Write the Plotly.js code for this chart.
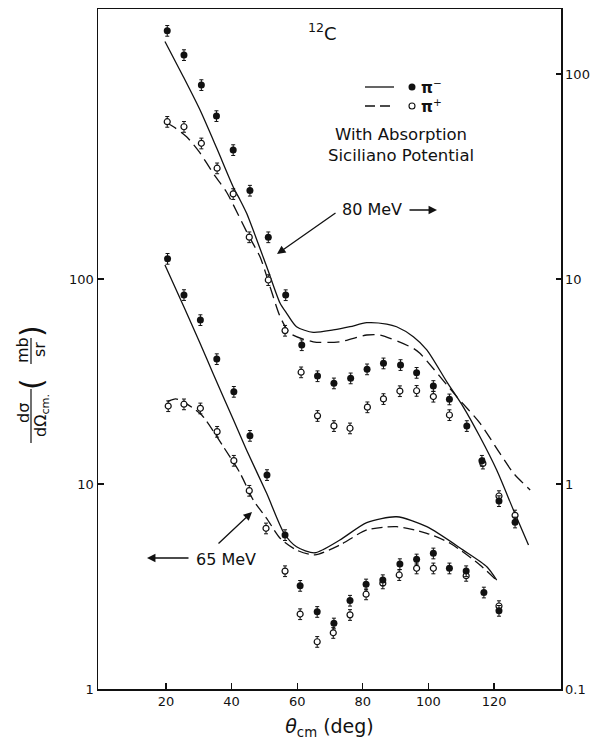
<!DOCTYPE html>
<html>
<head>
<meta charset="utf-8">
<script src="https://cdn.plot.ly/plotly-3.0.1.min.js"></script>
<style>
  html, body { margin: 0; padding: 0; background: #fff; }
  #chart { width: 596px; height: 740px; }
</style>
</head>
<body>
<div id="chart"></div>
<script>
// 12C pion elastic scattering, 65 MeV (left scale) and 80 MeV (right scale)

// --- 80 MeV measurements (right axis, mb/sr) ---
const theta80Minus = [20.4, 25.5, 30.8, 35.4, 40.5, 45.6, 51.2, 56.5, 61.4, 66.2, 71.2, 76.3, 81.3, 86.3, 91.5, 96.4, 101.5, 106.4, 111.7, 116.3, 121.5, 126.4];
const sigma80Minus = [162.6, 123.8, 88.4, 62.4, 42.6, 27.0, 16.0, 8.35, 4.76, 3.36, 3.10, 3.28, 3.63, 3.88, 3.81, 3.49, 3.01, 2.59, 1.92, 1.30, 0.826, 0.65];

const theta80Plus = [20.4, 25.5, 30.8, 35.6, 40.5, 45.4, 51.2, 56.3, 61.2, 66.2, 71.2, 76.1, 81.4, 86.3, 91.3, 96.4, 101.5, 106.4, 116.6, 121.5, 126.4];
const sigma80Plus = [58.5, 55.3, 45.9, 34.7, 26.0, 16.0, 9.89, 5.60, 3.51, 2.15, 1.92, 1.87, 2.37, 2.60, 2.84, 2.85, 2.67, 2.17, 1.26, 0.874, 0.703];

// --- 65 MeV measurements (left axis, mb/sr) ---
const theta65Minus = [20.5, 25.5, 30.5, 35.5, 40.7, 45.6, 50.8, 56.3, 60.9, 66.1, 71.2, 76.1, 81.0, 86.1, 91.3, 96.4, 101.5, 106.4, 111.5, 116.9, 121.5];
const sigma65Minus = [125.6, 83.6, 63.1, 40.7, 28.2, 17.2, 11.07, 5.64, 3.19, 2.38, 2.09, 2.70, 3.24, 3.40, 4.07, 4.29, 4.59, 3.88, 3.76, 2.96, 2.41];

const theta65Plus = [20.7, 25.5, 30.5, 35.6, 40.7, 45.4, 50.5, 56.3, 60.9, 66.1, 71.0, 76.1, 81.0, 86.1, 91.1, 96.4, 101.5, 111.5, 121.5];
const sigma65Plus = [24.0, 24.5, 23.4, 18.0, 13.0, 9.28, 6.08, 3.76, 2.32, 1.70, 1.88, 2.30, 2.90, 3.28, 3.60, 3.88, 3.88, 3.57, 2.54];

// --- Optical-model curves, with absorption (Siciliano potential) ---
const theta80MinusCalc = [19.7, 25.3, 30.4, 35.5, 40.7, 42.6, 44.6, 50.7, 54.8, 56.8, 59.8, 64.9, 71.0, 76.1, 81.2, 87.3, 90.3, 95.4, 99.5, 105.6, 110.6, 115.7, 120.8, 125.9, 130.5];
const sigma80MinusCalc = [144, 97, 66.7, 43.4, 27.7, 24.3, 20.9, 11.5, 7.61, 6.8, 5.85, 5.49, 5.64, 5.85, 6.12, 6.03, 5.85, 5.23, 4.51, 3.15, 2.38, 1.70, 1.17, 0.747, 0.504];

const theta80PlusCalc = [20.0, 22.3, 26.3, 30.1, 34.9, 38.5, 45.1, 48.7, 51.7, 54.8, 57.8, 64.9, 73.0, 81.2, 85.2, 95.4, 97.4, 108.6, 115.7, 121.8, 125.9, 131.0];
const sigma80PlusCalc = [58, 55.3, 49.4, 41.8, 31.9, 26.5, 16.4, 12.8, 9.2, 6.55, 5.44, 4.94, 4.94, 5.33, 5.33, 4.59, 4.34, 2.67, 1.98, 1.41, 1.13, 0.935];

const theta65MinusCalc = [19.7, 25.5, 30.4, 34.4, 40.6, 44.6, 50.7, 56.0, 59.8, 65.4, 73.0, 81.2, 90.3, 99.5, 110.6, 117.8, 120.8];
const sigma65MinusCalc = [117, 73, 48.6, 34.5, 20.5, 14.6, 9.01, 5.75, 4.94, 4.62, 5.33, 6.48, 6.92, 6.19, 4.76, 3.95, 3.40];

const theta65PlusCalc = [20.5, 23.0, 26.3, 30.9, 37.5, 42.6, 46.6, 50.7, 54.8, 59.8, 65.4, 73.0, 81.2, 90.3, 99.5, 106.6, 115.7, 120.8];
const sigma65PlusCalc = [25.2, 26.0, 24.6, 21.7, 15.2, 11.3, 8.36, 6.8, 5.44, 4.76, 4.51, 5.04, 5.97, 6.19, 5.75, 5.14, 4.03, 3.38];

// axis ticks
const xTicks = [20, 40, 60, 80, 100, 120];
const leftTicks = [1, 10, 100];
const leftTickText = ['1', '10', '100'];
const rightTicks = [0.1, 1, 10, 100];
const rightTickText = ['0.1', '1', '10', '100'];

// plot frame geometry (pixels)
const L = 98, R = 561, T = 9, B = 689;
const W = 596, H = 740;
const px = v => (v - L) / (R - L);
const py = v => (B - v) / (B - T);

const FONT = 'DejaVu Sans, Liberation Sans, sans-serif';
const INK = '#111';

function errBar() {
  return { type: 'percent', value: 6, width: 2, thickness: 1, color: INK };
}
function filled(x, y, yaxis) {
  return { x, y, yaxis, type: 'scatter', mode: 'markers', hoverinfo: 'skip',
    marker: { symbol: 'circle', size: 7, color: INK, line: { width: 0 } },
    error_y: errBar(), showlegend: false };
}
function open(x, y, yaxis) {
  return { x, y, yaxis, type: 'scatter', mode: 'markers', hoverinfo: 'skip',
    marker: { symbol: 'circle', size: 6, color: '#fff', line: { width: 1.2, color: INK } },
    error_y: errBar(), showlegend: false };
}
function curve(x, y, yaxis, dash) {
  return { x, y, yaxis, type: 'scatter', mode: 'lines', hoverinfo: 'skip',
    line: { color: INK, width: 1.3, dash: dash, shape: 'spline', smoothing: 0.7 },
    showlegend: false };
}

const traces = [
  curve(theta80MinusCalc, sigma80MinusCalc, 'y2', 'solid'),
  curve(theta80PlusCalc, sigma80PlusCalc, 'y2', '12px,6px'),
  curve(theta65MinusCalc, sigma65MinusCalc, 'y', 'solid'),
  curve(theta65PlusCalc, sigma65PlusCalc, 'y', '11px,5px'),
  open(theta80Plus, sigma80Plus, 'y2'),
  filled(theta80Minus, sigma80Minus, 'y2'),
  open(theta65Plus, sigma65Plus, 'y'),
  filled(theta65Minus, sigma65Minus, 'y')
];

function label(text, x, y, size, extra) {
  return Object.assign({ text, xref: 'paper', yref: 'paper', x: px(x), y: py(y),
    showarrow: false, xanchor: 'center', yanchor: 'middle',
    font: { family: FONT, size: size, color: INK } }, extra || {});
}
function arrow(headX, headY, tailX, tailY) {
  return { text: '', xref: 'paper', yref: 'paper', x: px(headX), y: py(headY),
    ax: tailX - headX, ay: tailY - headY, showarrow: true,
    arrowhead: 2, arrowsize: 1.3, arrowwidth: 1.3, arrowcolor: INK };
}

const annotations = [
  label('<sup>12</sup>C', 322, 32, 18),
  label('<b>π</b><sup>−</sup>', 431, 87, 15),
  label('<b>π</b><sup>+</sup>', 431, 106, 15),
  label('With Absorption', 401, 134, 16.5),
  label('Siciliano Potential', 401, 155, 16.5),
  label('80 MeV', 372, 210, 16),
  label('65 MeV', 226, 559, 16),
  arrow(277, 254, 337, 212),
  arrow(437, 210, 408, 210),
  arrow(147, 558, 190, 558),
  arrow(252, 512, 217, 545),
  // y-axis quantity, drawn as stacked fractions turned on their side
  label('dσ', 23, 413, 16, { textangle: -90 }),
  label('dΩ<sub>cm.</sub>', 41, 416, 16, { textangle: -90 }),
  label('mb', 22, 350, 16, { textangle: -90 }),
  label('sr', 39, 350, 16, { textangle: -90 }),
  label('(', 31, 384, 30, { textangle: -90 }),
  label(')', 31, 331, 30, { textangle: -90 }),
];

const shapes = [
  // legend keys
  { type: 'line', xref: 'paper', yref: 'paper', x0: px(365), x1: px(394), y0: py(87), y1: py(87),
    line: { color: INK, width: 1.3 } },
  { type: 'line', xref: 'paper', yref: 'paper', x0: px(365), x1: px(394), y0: py(106), y1: py(106),
    line: { color: INK, width: 1.3, dash: '10px,5px' } },
  { type: 'circle', xref: 'paper', yref: 'paper', xsizemode: 'pixel', ysizemode: 'pixel',
    xanchor: px(412), yanchor: py(87), x0: -3.5, x1: 3.5, y0: -3.5, y1: 3.5,
    fillcolor: INK, line: { width: 0 } },
  { type: 'circle', xref: 'paper', yref: 'paper', xsizemode: 'pixel', ysizemode: 'pixel',
    xanchor: px(412), yanchor: py(106), x0: -3, x1: 3, y0: -3, y1: 3,
    fillcolor: '#fff', line: { width: 1.1, color: INK } },
  // fraction bars of the y-axis quantity
  { type: 'line', xref: 'paper', yref: 'paper', x0: px(31), x1: px(31), y0: py(389), y1: py(443),
    line: { color: INK, width: 1.2 } },
  { type: 'line', xref: 'paper', yref: 'paper', x0: px(31), x1: px(31), y0: py(338), y1: py(364),
    line: { color: INK, width: 1.2 } }
];

const layout = {
  width: W, height: H,
  margin: { l: L, r: W - R, t: T, b: H - B },
  paper_bgcolor: '#fff', plot_bgcolor: '#fff',
  showlegend: false,
  font: { family: FONT, color: INK },
  xaxis: {
    range: [-0.7, 140.4], tickvals: xTicks, ticktext: xTicks.map(String),
    ticks: 'inside', ticklen: 6, tickwidth: 1.2, tickcolor: INK,
    showline: true, linewidth: 1.5, linecolor: INK, mirror: true,
    showgrid: false, zeroline: false,
    tickfont: { family: FONT, size: 13, color: INK },
    title: { text: '<i>θ</i><sub>cm</sub> (deg)', font: { family: FONT, size: 19, color: INK }, standoff: 12 }
  },
  yaxis: {
    type: 'log', range: [0, 3.317], tickvals: leftTicks, ticktext: leftTickText,
    ticks: 'inside', ticklen: 6, tickwidth: 1.2, tickcolor: INK,
    showline: true, linewidth: 1.5, linecolor: INK,
    showgrid: false, zeroline: false,
    tickfont: { family: FONT, size: 13, color: INK }
  },
  yaxis2: {
    type: 'log', range: [-1, 2.317], overlaying: 'y', side: 'right',
    tickvals: rightTicks, ticktext: rightTickText,
    ticks: 'inside', ticklen: 5, tickwidth: 1.2, tickcolor: INK,
    showline: true, linewidth: 1.5, linecolor: INK,
    showgrid: false, zeroline: false,
    tickfont: { family: FONT, size: 13, color: INK }
  },
  annotations, shapes
};

Plotly.newPlot('chart', traces, layout, { staticPlot: true, displayModeBar: false });
</script>
</body>
</html>
